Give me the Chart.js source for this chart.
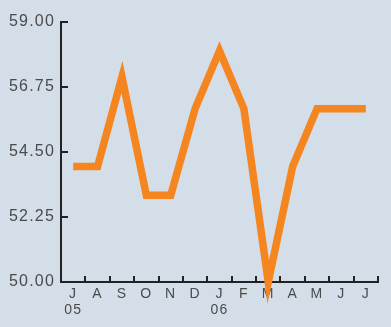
<!DOCTYPE html>
<html>
<head>
<meta charset="utf-8">
<script src="https://cdn.jsdelivr.net/npm/chart.js@4"></script>
<style>
  html, body { margin:0; padding:0; background:#d4dee9; }
  #c { display:block; }
</style>
</head>
<body>
<canvas id="c" width="391" height="327"></canvas>
<script>
const months = ['J','A','S','O','N','D','J','F','M','A','M','J','J'];
const years  = ['05','','','','','','06','','','','','',''];
const values = [54.0, 54.0, 57.1, 53.0, 53.0, 56.0, 58.0, 56.0, 50.0, 54.0, 56.0, 56.0, 56.0];
const yTicks = [50.00, 52.25, 54.50, 56.75, 59.00];

const labels = months.map((m, i) => [m, years[i]]);

const bgPlugin = {
  id: 'bg',
  beforeInit(chart) { chart.ctx.letterSpacing = '1.2px'; },
  beforeDraw(chart) {
    const ctx = chart.ctx;
    ctx.save();
    ctx.fillStyle = '#d4dee9';
    ctx.fillRect(0, 0, chart.width, chart.height);
    ctx.restore();
    ctx.letterSpacing = '1.2px';
  }
};

const tickPlugin = {
  id: 'innerTicks',
  afterDraw(chart) {
    const ctx = chart.ctx;
    const x = chart.scales.x, y = chart.scales.y;
    ctx.save();
    ctx.strokeStyle = '#222';
    ctx.lineWidth = 2;
    ctx.beginPath();
    y.ticks.forEach(t => {
      const py = Math.round(y.getPixelForValue(t.value));
      ctx.moveTo(y.right - 1, py);
      ctx.lineTo(y.right + 7, py);
    });
    const n = months.length;
    const w = (x.right - x.left) / n;
    for (let k = 1; k <= n; k++) {
      const px = Math.round(x.left + k * w);
      ctx.moveTo(px, x.top + 1);
      ctx.lineTo(px, x.top - 6);
    }
    ctx.stroke();
    ctx.restore();
  }
};

new Chart(document.getElementById('c'), {
  type: 'line',
  data: {
    labels: labels,
    datasets: [{
      data: values,
      borderColor: '#f5851f',
      borderWidth: 7.5,
      borderJoinStyle: 'miter',
      borderCapStyle: 'butt',
      pointRadius: 0,
      pointHoverRadius: 0,
      tension: 0,
      fill: false,
      clip: false
    }]
  },
  options: {
    responsive: false,
    devicePixelRatio: 1,
    animation: false,
    events: [],
    layout: { padding: { left: 0, right: 13, top: 22, bottom: 0 } },
    plugins: { legend: { display: false }, tooltip: { enabled: false } },
    scales: {
      x: {
        type: 'category',
        offset: true,
        afterFit(s) { s.height = 45; },
        grid: { display: false, offset: true, drawTicks: false },
        border: { display: true, color: '#222', width: 2 },
        ticks: {
          color: '#4a4a4a',
          font: { family: 'Liberation Sans', size: 14, lineHeight: 1.15 },
          padding: 4,
          maxRotation: 0,
          autoSkip: false
        }
      },
      y: {
        min: 50,
        max: 59,
        afterFit(s) { s.width = 61; },
        afterBuildTicks(s) { s.ticks = yTicks.map(v => ({ value: v })); },
        grid: { display: false, drawTicks: false },
        border: { display: true, color: '#222', width: 2 },
        ticks: {
          color: '#4a4a4a',
          font: { family: 'Liberation Sans', size: 16 },
          padding: 6,
          callback: v => Number(v).toFixed(2)
        }
      }
    }
  },
  plugins: [bgPlugin, tickPlugin]
});
</script>
</body>
</html>
